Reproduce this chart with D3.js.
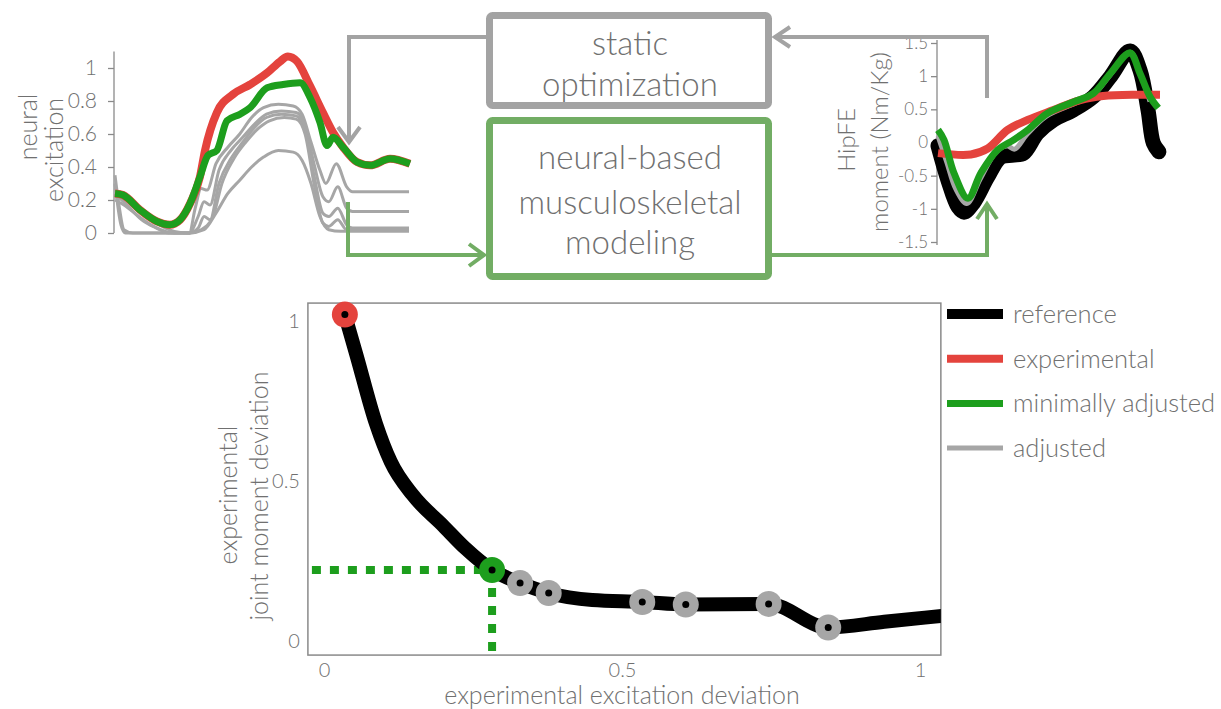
<!DOCTYPE html>
<html>
<head>
<meta charset="utf-8">
<script src="https://cdn.jsdelivr.net/npm/d3@7"></script>
<style>
  body { margin: 0; background: #fff; }
  text { font-family: Lato, "Open Sans", sans-serif; font-weight: 300; fill: #707070; }
</style>
</head>
<body>
<svg id="fig" width="1221" height="709"></svg>
<script>
// ---- data ----

// top-left: neural excitation over gait cycle (% cycle, value)
var excMinAdjusted = [[0,0.24],[2.7,0.23],[8.4,0.14],[14.1,0.07],[18.5,0.05],[21.9,0.08],[25.3,0.18],[28.6,0.34],[31.3,0.47],[34.3,0.5],[37.7,0.68],[42.1,0.72],[45.5,0.76],[51.2,0.88],[56.6,0.9],[62.3,0.91],[65.7,0.82],[69,0.67],[71.4,0.53],[73.4,0.58],[76.8,0.52],[81.5,0.43],[85.9,0.41],[92.6,0.45],[99.3,0.42]];
var excExperimental = [[0,0.24],[2.7,0.23],[8.4,0.14],[14.1,0.07],[18.5,0.05],[21.9,0.08],[25.3,0.18],[28.6,0.34],[30.3,0.5],[34.3,0.73],[39.7,0.84],[45.5,0.9],[51.2,0.97],[55.6,1.04],[58.2,1.07],[61.3,1.04],[65.7,0.89],[70,0.73],[73.4,0.61],[76.8,0.52],[81.5,0.43],[85.9,0.41],[92.6,0.45],[99.3,0.42]];
var excAdjusted1 = [[0,0.22],[3,0.21],[8,0.14],[13,0.07],[17,0.03],[20,0.01],[25,0],[27,0.15],[29,0.27],[31,0.26],[34,0.42],[38,0.52],[42,0.6],[46,0.7],[50,0.76],[55,0.78],[60,0.77],[63,0.72],[66,0.55],[69,0.38],[71,0.3],[74.5,0.42],[78,0.28],[80,0.25],[99,0.25]];
var excAdjusted2 = [[0,0.2],[3,0.17],[8,0.1],[13,0.04],[17,0.01],[20,0],[25,0],[28,0.1],[30,0.19],[32,0.17],[35,0.38],[39,0.5],[43,0.58],[47,0.66],[51,0.72],[56,0.74],[61,0.73],[64,0.65],[67,0.42],[70,0.22],[72,0.19],[75,0.28],[78,0.15],[80,0.13],[99,0.13]];
var excAdjusted3 = [[0,0.35],[1.5,0.15],[3,0.02],[6,0],[25,0],[28,0.03],[30,0.1],[32,0.08],[35,0.3],[39,0.45],[43,0.55],[47,0.64],[51,0.7],[56,0.72],[61,0.71],[64,0.62],[67,0.35],[70,0.12],[72,0.1],[75,0.15],[78,0.05],[80,0.03],[99,0.03]];
var excAdjusted4 = [[0,0.3],[2,0.05],[3.5,0],[25,0],[29,0.02],[33,0.1],[36,0.3],[40,0.45],[44,0.55],[48,0.63],[52,0.68],[57,0.7],[61,0.69],[64,0.6],[67,0.3],[70,0.06],[72,0.04],[75,0.08],[78,0.02],[99,0.02]];
var excAdjusted5 = [[0,0.24],[4,0.17],[9,0.08],[14,0.03],[18,0],[25,0],[30,0.02],[34,0.12],[38,0.24],[42,0.32],[46,0.4],[50,0.46],[55,0.5],[60,0.49],[63,0.44],[66,0.3],[69,0.1],[72,0.02],[76,0.01],[99,0.01]];
var excTicks = [0, 0.2, 0.4, 0.6, 0.8, 1];

// top-right: hip flexion-extension moment (% cycle, Nm/Kg)
var momReference = [[0,-0.05],[4.5,-0.57],[9,-0.97],[11.7,-1.05],[16,-0.91],[22.4,-0.52],[28.3,-0.22],[34,-0.19],[38.6,-0.16],[44.8,0.14],[52,0.34],[61,0.49],[70,0.69],[77.6,0.99],[86.5,1.38],[91,1.09],[94.6,0.49],[97,-0.01],[99.5,-0.14]];
var momAdjusted = [[0,0.1],[4,-0.3],[8,-0.7],[13,-0.92],[19,-0.55],[26,-0.15],[31,-0.05],[34.5,-0.1],[40,0.12],[49,0.4],[61,0.58],[70,0.72],[77.6,1.02],[86.5,1.36],[91,1.05],[95.5,0.62]];
var momExperimental = [[0,-0.16],[14.8,-0.18],[22.4,-0.09],[31.4,0.19],[40.4,0.34],[52,0.49],[64.1,0.64],[74.4,0.7],[89.7,0.72],[100,0.72]];
var momMinAdjusted = [[0,0.19],[2.7,0.04],[7.2,-0.46],[13.5,-0.84],[19.3,-0.46],[26.9,-0.11],[34.1,0.04],[40.4,0.19],[49.3,0.44],[61,0.61],[70,0.74],[77.6,1.04],[86.5,1.35],[91,1.04],[95.5,0.69],[99.2,0.52]];
var momTicks = [-1.5, -1, -0.5, 0, 0.5, 1, 1.5];

// bottom: trade-off curve (excitation deviation, moment deviation)
var paretoCurve = [[0.035,1.02],[0.055,0.89],[0.087,0.68],[0.112,0.56],[0.149,0.456],[0.2,0.36],[0.237,0.29],[0.282,0.222],[0.329,0.181],[0.377,0.15],[0.45,0.128],[0.534,0.122],[0.607,0.114],[0.746,0.116],[0.846,0.042],[0.94,0.06],[1.04,0.079]];
var pointExperimental = [0.035, 1.02];
var pointMinAdjusted = [0.282, 0.222];
var pointsAdjusted = [[0.329,0.181],[0.377,0.15],[0.534,0.122],[0.607,0.114],[0.746,0.116],[0.846,0.042]];
var devTicks = [0, 0.5, 1];

var legendLabels = ["reference", "experimental", "minimally adjusted", "adjusted"];

// colours
var cBlack = "#000", cRed = "#e4433d", cGreen = "#1d9e1d", cGrey = "#a6a6a6";
var cBoxGrey = "#a3a3a3", cBoxGreen = "#72ad64";

var svg = d3.select("#fig");

// ---------- top-left excitation chart ----------
var ex = d3.scaleLinear().domain([0, 100]).range([115, 412]);
var ey = d3.scaleLinear().domain([0, 1]).range([233, 68]);
var exLine = d3.line()
    .x(function(d) { return ex(d[0]); })
    .y(function(d) { return ey(d[1]); })
    .curve(d3.curveMonotoneX);

var gExc = svg.append("g");
var excAxis = gExc.append("g")
    .attr("transform", "translate(114,0)")
    .call(d3.axisLeft(ey).tickValues(excTicks).tickSize(6).tickSizeOuter(0).tickPadding(11).tickFormat(function(d) { return String(d); }));
excAxis.select(".domain").attr("d", "M0," + ey(1.1) + "V" + ey(0));
excAxis.selectAll("line, path").attr("stroke", "#8a8a8a").attr("stroke-width", 1.3);
excAxis.selectAll("text").attr("font-size", 21).attr("fill", "#808080").attr("font-family", null);

[excAdjusted1, excAdjusted2, excAdjusted3, excAdjusted4, excAdjusted5].forEach(function(s) {
    gExc.append("path").datum(s)
        .attr("fill", "none").attr("stroke", cGrey).attr("stroke-width", 3)
        .attr("stroke-linejoin", "round")
        .attr("d", exLine);
});
gExc.append("path").datum(excExperimental)
    .attr("fill", "none").attr("stroke", cRed).attr("stroke-width", 8)
    .attr("stroke-linejoin", "round")
    .attr("d", exLine);
gExc.append("path").datum(excMinAdjusted)
    .attr("fill", "none").attr("stroke", cGreen).attr("stroke-width", 7)
    .attr("stroke-linejoin", "round")
    .attr("d", exLine);

function vLabel(x, y, txt, size) {
    svg.append("text")
        .attr("transform", "translate(" + x + "," + y + ") rotate(-90)")
        .attr("text-anchor", "middle")
        .attr("dominant-baseline", "central")
        .attr("font-size", size)
        .text(txt);
}
vLabel(27, 127, "neural", 25);
vLabel(53, 150, "excitation", 25);

// ---------- top-right moment chart ----------
var mx = d3.scaleLinear().domain([0, 100]).range([938, 1160]);
var my = d3.scaleLinear().domain([-1.5, 1.5]).range([242, 43]);
var mLine = d3.line()
    .x(function(d) { return mx(d[0]); })
    .y(function(d) { return my(d[1]); })
    .curve(d3.curveCatmullRom.alpha(0.5));

var gMom = svg.append("g");
var momAxis = gMom.append("g")
    .attr("transform", "translate(937,0)")
    .call(d3.axisLeft(my).tickValues(momTicks).tickSize(6).tickSizeOuter(0).tickFormat(function(d) { return String(d); }));
momAxis.select(".domain").attr("d", "M0,40V245");
momAxis.selectAll("line, path").attr("stroke", "#8a8a8a").attr("stroke-width", 1.3);
momAxis.selectAll("text").attr("font-size", 17).attr("fill", "#808080").attr("font-family", null);

gMom.append("path").datum(momReference)
    .attr("fill", "none").attr("stroke", cBlack).attr("stroke-width", 15)
    .attr("stroke-linejoin", "round").attr("stroke-linecap", "round")
    .attr("d", mLine);
gMom.append("path").datum(momAdjusted)
    .attr("fill", "none").attr("stroke", cGrey).attr("stroke-width", 5)
    .attr("stroke-linejoin", "round")
    .attr("d", mLine);
gMom.append("path").datum(momExperimental)
    .attr("fill", "none").attr("stroke", cRed).attr("stroke-width", 8)
    .attr("stroke-linejoin", "round")
    .attr("d", mLine);
gMom.append("path").datum(momMinAdjusted)
    .attr("fill", "none").attr("stroke", cGreen).attr("stroke-width", 7)
    .attr("stroke-linejoin", "round")
    .attr("d", mLine);

vLabel(845, 140, "HipFE", 24);
vLabel(878, 142, "moment (Nm/Kg)", 24);

// ---------- flow chart boxes + arrows ----------
svg.append("rect").attr("x", 489.5).attr("y", 15.5).attr("width", 279).attr("height", 90).attr("rx", 3)
    .attr("fill", "none").attr("stroke", cBoxGrey).attr("stroke-width", 7);
svg.append("rect").attr("x", 489.5).attr("y", 120.5).attr("width", 279).attr("height", 156).attr("rx", 3)
    .attr("fill", "none").attr("stroke", cBoxGreen).attr("stroke-width", 7);

function boxText(lines, ys) {
    lines.forEach(function(t, i) {
        svg.append("text").attr("x", 630).attr("y", ys[i]).attr("text-anchor", "middle")
            .attr("font-size", 33).attr("fill", "#777").text(t);
    });
}
boxText(["static", "optimization"], [55, 96]);
boxText(["neural-based", "musculoskeletal", "modeling"], [169, 214, 254]);

function arrow(pts, head, color) {
    svg.append("path").attr("d", d3.line()(pts))
        .attr("fill", "none").attr("stroke", color).attr("stroke-width", 4);
    svg.append("path").attr("d", d3.line()(head))
        .attr("fill", "none").attr("stroke", color).attr("stroke-width", 4)
        .attr("stroke-linejoin", "miter");
}
// static optimization -> excitations
arrow([[486, 37], [349, 37], [349, 141]], [[338, 127], [349, 142], [360, 127]], cBoxGrey);
// moments -> static optimization
arrow([[987, 98], [987, 37], [776, 37]], [[790, 27], [775, 37], [790, 47]], cBoxGrey);
// excitations -> model
arrow([[348, 202], [348, 255], [482, 255]], [[469, 244], [484, 255], [469, 266]], cBoxGreen);
// model -> moments
arrow([[772, 255], [987, 255], [987, 205]], [[977, 219], [987, 204], [997, 219]], cBoxGreen);

// ---------- bottom trade-off chart ----------
var bx = d3.scaleLinear().domain([0, 1]).range([324, 920]);
var by = d3.scaleLinear().domain([0, 1]).range([641, 321]);
var x0 = bx(-0.027), x1 = bx(1.035), y0 = by(-0.044), y1 = by(1.056);

svg.append("clipPath").attr("id", "plotclip")
    .append("rect").attr("x", x0).attr("y", y1 - 20).attr("width", x1 - x0).attr("height", y0 - y1 + 20);

var gDev = svg.append("g");
gDev.append("rect").attr("x", x0).attr("y", y1).attr("width", x1 - x0).attr("height", y0 - y1)
    .attr("fill", "none").attr("stroke", "#8a8a8a").attr("stroke-width", 1.5);

// tick labels only, no tick marks
var xAx = gDev.append("g").attr("transform", "translate(0," + y0 + ")")
    .call(d3.axisBottom(bx).tickValues(devTicks).tickSize(0).tickPadding(8).tickFormat(function(d) { return String(d); }));
var yAx = gDev.append("g").attr("transform", "translate(" + (x0 - 4) + ",0)")
    .call(d3.axisLeft(by).tickValues(devTicks).tickSize(0).tickPadding(4).tickFormat(function(d) { return String(d); }));
[xAx, yAx].forEach(function(a) {
    a.select(".domain").remove();
    a.selectAll("text").attr("font-size", 20).attr("fill", "#808080").attr("font-family", null);
});

// dotted guides to the minimally adjusted solution
gDev.append("line")
    .attr("x1", x0 + 4).attr("x2", bx(pointMinAdjusted[0])).attr("y1", by(pointMinAdjusted[1])).attr("y2", by(pointMinAdjusted[1]))
    .attr("stroke", cGreen).attr("stroke-width", 8).attr("stroke-dasharray", "9,9");
gDev.append("line")
    .attr("x1", bx(pointMinAdjusted[0])).attr("x2", bx(pointMinAdjusted[0])).attr("y1", by(pointMinAdjusted[1])).attr("y2", y0)
    .attr("stroke", cGreen).attr("stroke-width", 8).attr("stroke-dasharray", "9,9");

gDev.append("path").datum(paretoCurve)
    .attr("clip-path", "url(#plotclip)")
    .attr("fill", "none").attr("stroke", cBlack).attr("stroke-width", 14)
    .attr("stroke-linejoin", "round")
    .attr("d", d3.line()
        .x(function(d) { return bx(d[0]); })
        .y(function(d) { return by(d[1]); })
        .curve(d3.curveMonotoneX));

function marker(p, color) {
    gDev.append("circle").attr("cx", bx(p[0])).attr("cy", by(p[1])).attr("r", 13).attr("fill", color);
    gDev.append("circle").attr("cx", bx(p[0])).attr("cy", by(p[1])).attr("r", 3.5).attr("fill", "#000");
}
pointsAdjusted.forEach(function(p) { marker(p, cGrey); });
marker(pointMinAdjusted, cGreen);
marker(pointExperimental, cRed);

gDev.append("text").attr("x", bx(0.5)).attr("y", 704).attr("text-anchor", "middle")
    .attr("font-size", 25).text("experimental excitation deviation");
vLabel(227, 495, "experimental", 25);
vLabel(258, 496, "joint moment deviation", 25);

// legend
var legColors = [cBlack, cRed, cGreen, cGrey];
var legWidths = [10, 8, 7, 5];
legendLabels.forEach(function(lab, i) {
    var ly = 314 + i * 44.7;
    svg.append("line").attr("x1", 947).attr("x2", 1003).attr("y1", ly).attr("y2", ly)
        .attr("stroke", legColors[i]).attr("stroke-width", legWidths[i]);
    svg.append("text").attr("x", 1013).attr("y", ly + 9).attr("font-size", 25.5).attr("fill", "#666").text(lab);
});
</script>
</body>
</html>
